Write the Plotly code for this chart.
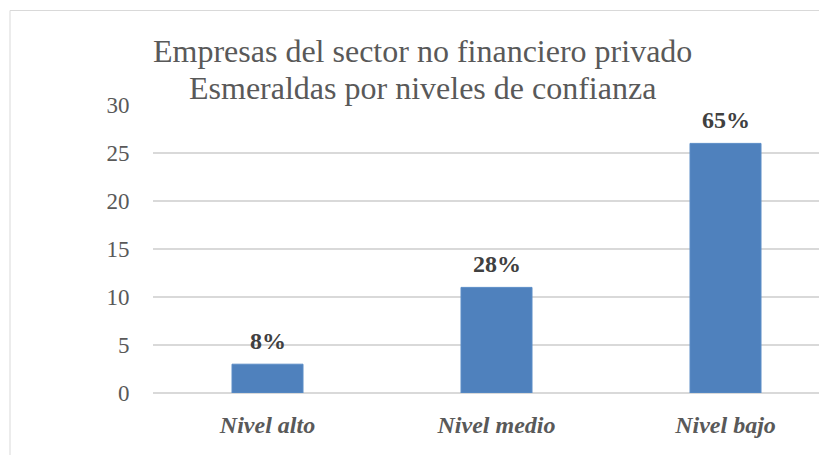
import plotly.graph_objects as go

categories = ["Nivel alto", "Nivel medio", "Nivel bajo"]
values = [3, 11, 26]
pct_labels = ["8%", "28%", "65%"]
y_ticks = [0, 5, 10, 15, 20, 25, 30]
title_lines = ["Empresas del sector no financiero privado", "Esmeraldas por niveles de confianza"]

FONT = "Liberation Serif"
GRAY = "#595959"

OFF = 8  # browser body margin
W, H = 827, 455
L, R, T, B = 153 - OFF, 0, 105 - OFF, 455 - (393 - OFF)
pw = W - L - R
ph = H - T - B

def px_to_paper_x(px):
    return (px - OFF - L) / pw

def px_to_paper_y(py):
    return (H - B - (py - OFF)) / ph

fig = go.Figure()
fig.add_trace(go.Bar(
    x=categories, y=values,
    marker=dict(color="#4f81bd", line=dict(color="#5b8cc6", width=1)),
    hoverinfo="skip",
))

for c, v, t in zip(categories, values, pct_labels):
    fig.add_annotation(x=c, y=v, xref="x", yref="y", text="<b>%s</b>" % t,
                       showarrow=False, yanchor="middle", yshift=23,
                       font=dict(family=FONT, size=24, color="#404040"))

title_y = [51, 88]
for line, ypx in zip(title_lines, title_y):
    fig.add_annotation(x=px_to_paper_x(422), y=px_to_paper_y(ypx), xref="paper", yref="paper",
                       text=line, showarrow=False, xanchor="center", yanchor="middle",
                       font=dict(family=FONT, size=32, color=GRAY))

# outer chart border (left and top visible)
fig.add_shape(type="rect", xref="paper", yref="paper",
              x0=px_to_paper_x(10), x1=px_to_paper_x(900),
              y0=px_to_paper_y(520), y1=px_to_paper_y(10.5),
              line=dict(color="#d9d9d9", width=1), layer="below")

fig.update_layout(
    width=W, height=H,
    margin=dict(l=L, r=R, t=T, b=B),
    paper_bgcolor="white", plot_bgcolor="white",
    showlegend=False,
    bargap=0.69,
    xaxis=dict(range=[-0.5, -0.5 + pw / 229.0], showgrid=False, zeroline=False,
               showline=False, ticks="outside", ticklen=10, tickcolor="rgba(0,0,0,0)",
               tickfont=dict(family=FONT, size=24, color=GRAY),
               tickvals=categories,
               ticktext=["<b><i>%s</i></b>" % c for c in categories]),
    yaxis=dict(range=[0, 30], tickvals=y_ticks, showgrid=True, gridcolor="#d9d9d9",
               gridwidth=1.5, zeroline=True, zerolinecolor="#d9d9d9", zerolinewidth=1.5,
               showline=False, ticks="outside", ticklen=18, tickcolor="rgba(0,0,0,0)",
               tickfont=dict(family=FONT, size=23, color=GRAY)),
)

fig.write_html("out.html")
